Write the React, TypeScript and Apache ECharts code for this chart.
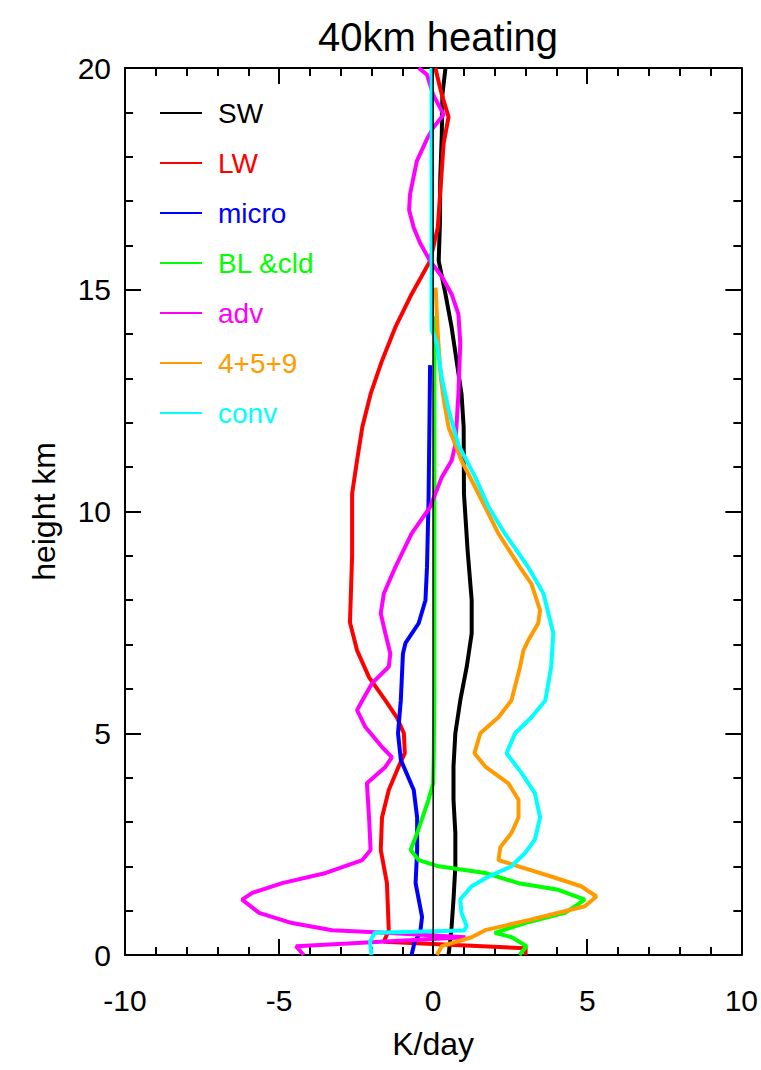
import React, { useEffect, useRef } from "react";
import * as echarts from "echarts";

// ---- data (K/day vs height km) ----
const swHeights = [20, 19.4, 18.5, 17.5, 16.5, 15.65, 14.9, 14.15, 13.4, 12.65, 11.9, 10.4, 9.1, 8.0, 7.25, 6.5, 5.74, 5.0, 4.25, 3.5, 2.75, 2.0, 1.25, 0.65, 0.3, 0];
const swValues = [0.4, 0.3, 0.28, 0.23, 0.22, 0.18, 0.4, 0.6, 0.76, 0.92, 0.99, 1.0, 1.12, 1.25, 1.25, 1.09, 0.88, 0.72, 0.66, 0.66, 0.72, 0.72, 0.66, 0.6, 0.55, 0.5];

const lwHeights = [20, 19.4, 18.9, 18.3, 17.2, 16.4, 15.65, 14.9, 14.15, 13.4, 12.65, 11.9, 11.15, 10.4, 9.0, 7.5, 6.87, 6.26, 5.74, 5.36, 5.0, 4.55, 4.25, 3.72, 3.1, 2.37, 1.62, 0.56, 0.3, 0.15, 0];
const lwValues = [0.07, 0.28, 0.5, 0.34, 0.23, 0.15, -0.1, -0.7, -1.23, -1.66, -2.03, -2.3, -2.47, -2.63, -2.63, -2.7, -2.47, -2.08, -1.55, -1.18, -0.95, -0.92, -1.12, -1.44, -1.66, -1.7, -1.5, -1.44, -1.6, 3.0, 3.0];

const microHeights = [13.3, 12, 10.25, 8.74, 8.0, 7.48, 7.03, 6.8, 5.74, 5.0, 4.4, 3.72, 3.1, 2.37, 1.62, 0.86, 0.5, 0.3, 0];
const microValues = [-0.1, -0.12, -0.15, -0.2, -0.25, -0.47, -0.9, -0.98, -1.05, -1.14, -1.05, -0.63, -0.52, -0.52, -0.57, -0.36, -0.42, -0.6, -0.7];

const blHeights = [14.4, 12, 10, 8, 6, 4.5, 3.87, 3.5, 2.75, 2.37, 2.14, 2.0, 1.85, 1.62, 1.47, 1.25, 0.95, 0.72, 0.5, 0.4, 0.2, 0];
const blValues = [0.04, 0.04, 0.04, 0.04, 0.04, 0.02, 0.0, -0.15, -0.52, -0.73, -0.47, 0.18, 1.69, 2.77, 4.06, 4.92, 4.28, 2.98, 2.0, 2.55, 3.03, 2.8];

const advHeights = [20, 19.85, 19.4, 18.95, 18.65, 18.4, 17.9, 17.15, 16.8, 16.4, 16.05, 15.65, 15.3, 14.9, 14.45, 13.8, 12.65, 11.5, 11.15, 10.77, 10.4, 10.1, 9.5, 8.74, 8.15, 7.7, 7.25, 6.8, 6.5, 6.13, 5.74, 5.52, 5.14, 4.69, 4.46, 4.24, 3.87, 3.1, 2.37, 2.14, 1.85, 1.62, 1.4, 1.25, 0.95, 0.72, 0.56, 0.5, 0.4, 0.2, 0];
const advValues = [-0.47, -0.2, 0.0, 0.34, 0.0, -0.2, -0.53, -0.75, -0.78, -0.63, -0.42, -0.1, 0.28, 0.6, 0.82, 0.88, 0.82, 0.72, 0.6, 0.28, 0.07, -0.1, -0.7, -1.23, -1.6, -1.7, -1.55, -1.39, -1.44, -1.98, -2.3, -2.47, -2.2, -1.66, -1.34, -1.55, -2.15, -2.08, -2.03, -2.3, -3.48, -4.9, -5.87, -6.2, -5.65, -4.58, -3.28, -1.55, 1.05, -4.45, -4.2];

const sumHeights = [15.05, 14, 13, 12.5, 11.9, 11.15, 10.4, 9.5, 8.74, 8.37, 7.77, 7.48, 7.1, 6.87, 6.5, 5.74, 5.36, 5.0, 4.55, 4.25, 3.87, 3.5, 3.1, 2.75, 2.43, 2.14, 2.0, 1.77, 1.55, 1.32, 1.1, 0.8, 0.56, 0.4, 0.2, 0];
const sumValues = [0.08, 0.15, 0.25, 0.35, 0.5, 0.92, 1.47, 2.12, 2.82, 3.19, 3.47, 3.41, 3.09, 2.93, 2.82, 2.54, 2.12, 1.53, 1.34, 1.69, 2.44, 2.77, 2.77, 2.54, 2.18, 2.12, 2.77, 3.83, 4.8, 5.3, 4.92, 3.19, 1.69, 1.25, 0.28, 0.12];

const convHeights = [20, 17, 14.1, 13.8, 13.0, 12.3, 11.5, 10.77, 10.1, 9.5, 8.74, 8.15, 7.25, 6.5, 5.74, 5.36, 5.0, 4.55, 4.1, 3.65, 3.1, 2.6, 2.3, 2.0, 1.77, 1.55, 1.25, 0.95, 0.65, 0.55, 0.5, 0.3, 0];
const convValues = [-0.05, -0.05, -0.05, 0.12, 0.28, 0.5, 0.82, 1.37, 1.8, 2.33, 3.09, 3.58, 3.9, 3.83, 3.64, 3.19, 2.66, 2.38, 2.87, 3.3, 3.47, 3.3, 2.98, 2.54, 1.8, 1.25, 0.88, 0.92, 1.09, 1.0, -1.9, -2.05, -2.0];

const zeroHeights = [0, 20];
const zeroValues = [0, 0];

const seriesNames = ["SW", "LW", "micro", "BL &cld", "adv", "4+5+9", "conv"];
const seriesColors = ["#000000", "#ff0000", "#0000ff", "#00ff00", "#ff00ff", "#ff9a00", "#00ffff"];
const seriesHeights = [swHeights, lwHeights, microHeights, blHeights, advHeights, sumHeights, convHeights];
const seriesValues = [swValues, lwValues, microValues, blValues, advValues, sumValues, convValues];

const xMin = -10, xMax = 10, xInterval = 5;
const yMin = 0, yMax = 20, yInterval = 5;

const FONT = "Liberation Sans, Arial, Helvetica, sans-serif";

function zip(values: number[], heights: number[]) {
  return values.map((v, i) => [v, heights[i]]);
}

export default function App() {
  const ref = useRef<HTMLDivElement>(null);
  useEffect(() => {
    if (!ref.current) return;
    const chart = echarts.init(ref.current, undefined, { renderer: "svg" });
    const axisCommon = {
      type: "value" as const,
      axisLine: { show: true, onZero: false, lineStyle: { color: "#000", width: 2 } },
      axisTick: { show: true, inside: true, length: 16, lineStyle: { color: "#000", width: 2 } },
      minorTick: { show: true, splitNumber: 5, length: 8, lineStyle: { color: "#000", width: 2 } },
      splitLine: { show: false },
      minorSplitLine: { show: false },
    };
    const labelStyle = { fontSize: 30, color: "#000", fontFamily: FONT };
    const nameStyle = { fontSize: 32, color: "#000", fontFamily: FONT };
    const option: any = {
      animation: false,
      backgroundColor: "#fff",
      title: {
        text: "40km heating",
        left: 433,
        top: 12,
        textAlign: "center",
        textStyle: { fontSize: 40, fontWeight: "normal", color: "#000", fontFamily: FONT },
      },
      grid: { left: 125, right: 19, top: 68, bottom: 115 },
      legend: {
        data: seriesNames.map((n, i) => ({ name: n, textStyle: { color: seriesColors[i] } })),
        orient: "vertical",
        left: 155,
        top: 93,
        icon: "rect",
        itemWidth: 42,
        itemHeight: 2,
        itemGap: 20,
        selectedMode: false,
        textStyle: { fontSize: 28, fontFamily: FONT, lineHeight: 30, padding: [0, 0, 0, 11] },
      },
      xAxis: [
        {
          ...axisCommon,
          min: xMin, max: xMax, interval: xInterval,
          position: "bottom",
          axisLabel: { ...labelStyle, margin: 30 },
          name: "K/day",
          nameLocation: "middle",
          nameGap: 73,
          nameTextStyle: nameStyle,
        },
        {
          ...axisCommon,
          min: xMin, max: xMax, interval: xInterval,
          position: "top",
          axisLabel: { show: false },
        },
      ],
      yAxis: [
        {
          ...axisCommon,
          min: yMin, max: yMax, interval: yInterval,
          position: "left",
          axisLabel: { ...labelStyle, margin: 14 },
          name: "height km",
          nameLocation: "middle",
          nameGap: 65,
          nameTextStyle: nameStyle,
        },
        {
          ...axisCommon,
          min: yMin, max: yMax, interval: yInterval,
          position: "right",
          axisLabel: { show: false },
        },
      ],
      series: [
        ...seriesNames.map((n, i) => ({
          name: n,
          type: "line",
          symbol: "none",
          data: zip(seriesValues[i], seriesHeights[i]),
          lineStyle: { color: seriesColors[i], width: 4 },
          itemStyle: { color: seriesColors[i] },
          clip: true,
        })),
        {
          name: "zero",
          type: "line",
          symbol: "none",
          data: zip(zeroValues, zeroHeights),
          lineStyle: { color: "#000", width: 1.5 },
          itemStyle: { color: "#000" },
        },
      ],
    };
    chart.setOption(option);
    return () => chart.dispose();
  }, []);
  return (
    <div
      ref={ref}
      style={{ position: "fixed", left: 0, top: 0, width: 761, height: 1070, background: "#fff" }}
    />
  );
}
